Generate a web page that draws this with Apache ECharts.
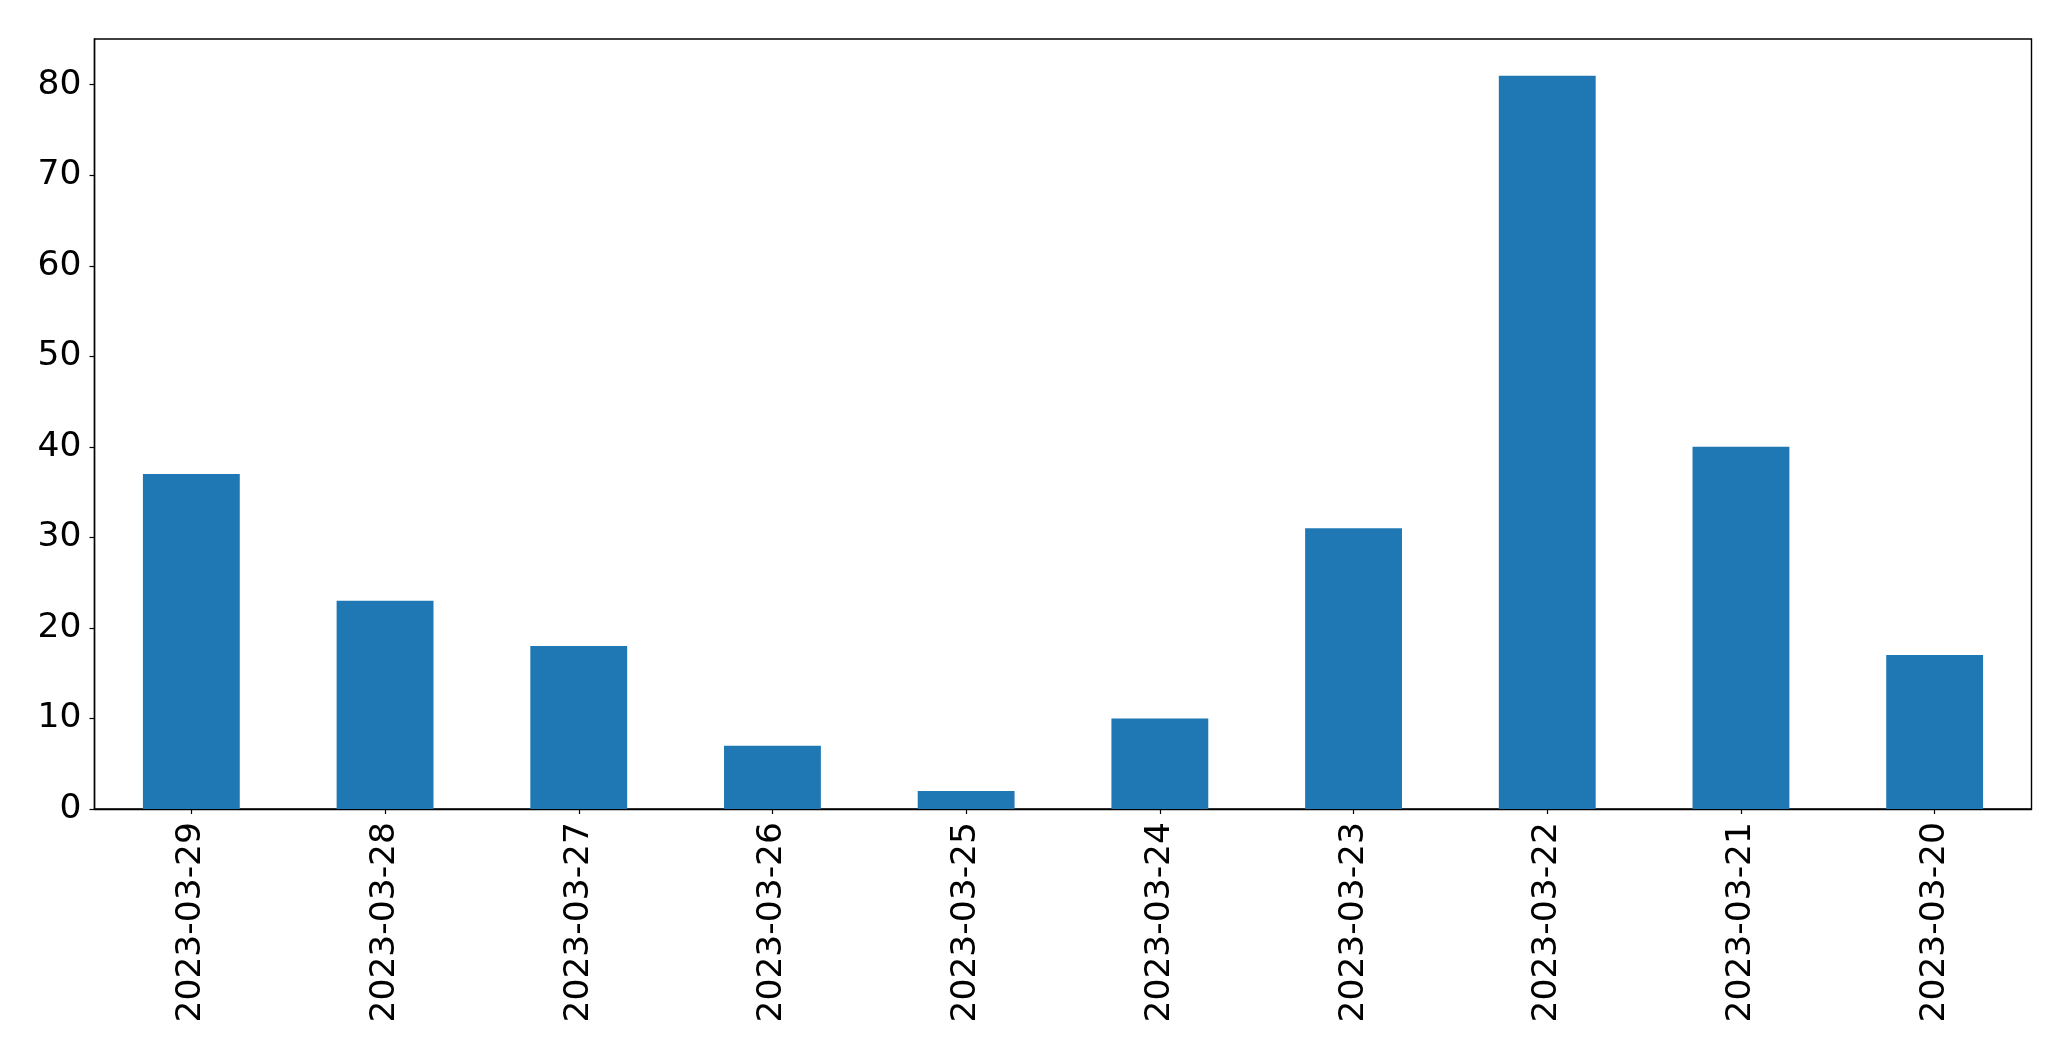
<!DOCTYPE html>
<html><head><meta charset="utf-8">
<script src="https://cdn.jsdelivr.net/npm/echarts@6/dist/echarts.min.js"></script>
<style>html,body{margin:0;padding:0;background:#fff}#c{width:2071px;height:1061px}</style>
</head><body><div id="c"></div>
<script>
const categories = ["2023-03-29","2023-03-28","2023-03-27","2023-03-26","2023-03-25","2023-03-24","2023-03-23","2023-03-22","2023-03-21","2023-03-20"];
const values = [37, 23, 18, 7, 2, 10, 31, 81, 40, 17];
const yTicks = [0, 10, 20, 30, 40, 50, 60, 70, 80];

const chart = echarts.init(document.getElementById('c'), null, {renderer: 'canvas'});
const font = 'DejaVu Sans';
chart.setOption({
  animation: false,
  grid: {left: 94.5, top: 39, right: 39.5, bottom: 252, show: true, borderColor: '#000', borderWidth: 1.4, backgroundColor: 'transparent'},
  xAxis: {
    type: 'category', data: categories, boundaryGap: true,
    axisLine: {show: true, lineStyle: {color: '#000', width: 1.4}},
    axisTick: {show: true, alignWithLabel: true, length: 5, lineStyle: {color: '#000', width: 1.2}},
    axisLabel: {rotate: 90, margin: 13, color: '#000', fontFamily: font, fontSize: 34.5, interval: 0}
  },
  yAxis: {
    type: 'value', min: 0, max: 85.05, interval: 10,
    axisLine: {show: true, lineStyle: {color: '#000', width: 1.4}},
    axisTick: {show: true, length: 5, lineStyle: {color: '#000', width: 1.2}},
    splitLine: {show: false},
    axisLabel: {margin: 13, color: '#000', fontFamily: font, fontSize: 34.5,
      formatter: v => yTicks.includes(v) ? String(v) : '', showMaxLabel: false}
  },
  series: [{type: 'bar', data: values, barWidth: '50%', itemStyle: {color: '#1f77b4'}}]
});
</script></body></html>
